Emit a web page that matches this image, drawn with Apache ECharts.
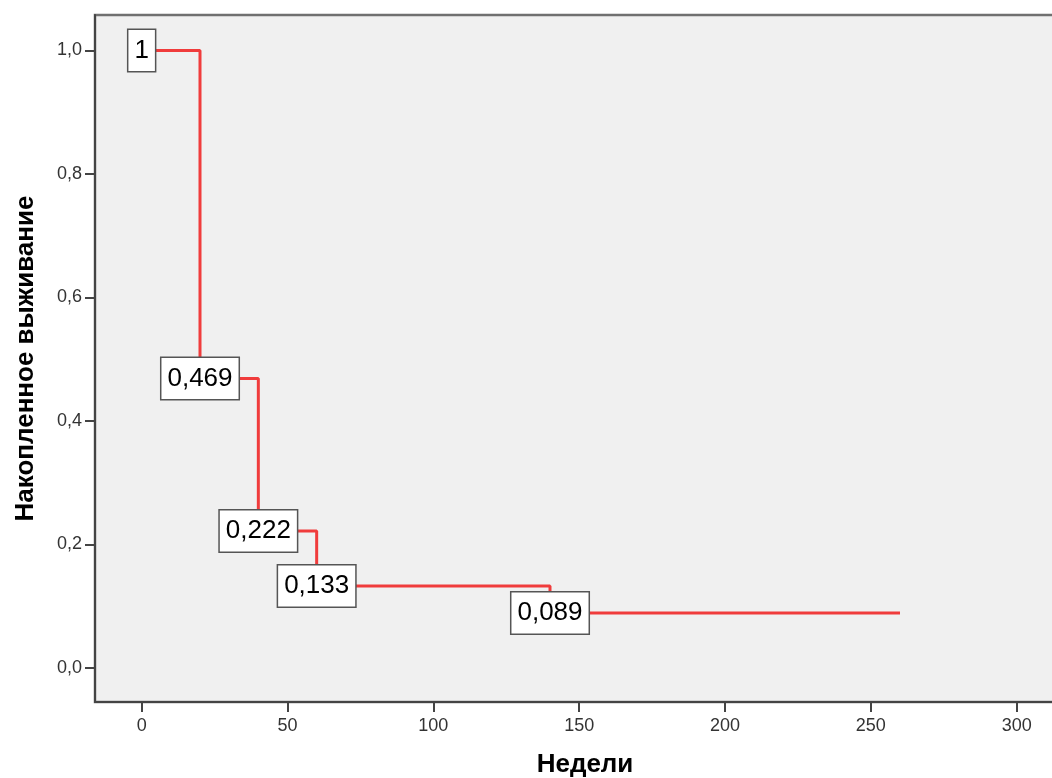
<!DOCTYPE html>
<html>
<head>
<meta charset="utf-8">
<script src="https://cdn.jsdelivr.net/npm/echarts@6/dist/echarts.min.js"></script>
<style>
html,body{margin:0;padding:0;background:#fff;}
#chart{width:1052px;height:778px;}
</style>
</head>
<body>
<div id="chart"></div>
<script>
// Kaplan-Meier step data
const weeks = [0, 20, 40, 60, 140, 260];
const survival = [1, 0.469, 0.222, 0.133, 0.089, 0.089];
// Labelled points (drops)
const labelWeeks = [0, 20, 40, 60, 140];
const labelSurvival = [1, 0.469, 0.222, 0.133, 0.089];
const labelTexts = ['1', '0,469', '0,222', '0,133', '0,089'];
// Axis ticks
const xTicks = [0, 50, 100, 150, 200, 250, 300];
const yTicks = [0, 0.2, 0.4, 0.6, 0.8, 1.0];
const xTitle = 'Недели';
const yTitle = 'Накопленное выживание';

const FONT = "'Liberation Sans', Arial, sans-serif";
const chart = echarts.init(document.getElementById('chart'), null, {renderer: 'canvas'});

chart.setOption({
  animation: false,
  backgroundColor: '#ffffff',
  grid: {
    left: 95, top: 15, width: 980, height: 687,
    outerBoundsMode: 'none', containLabel: false,
    show: true, backgroundColor: '#f0f0f0',
    borderColor: '#707070', borderWidth: 2.5
  },
  xAxis: {
    type: 'value', min: -16, max: 320,
    name: xTitle, nameLocation: 'middle', nameGap: 50,
    nameTextStyle: {fontFamily: FONT, fontSize: 26, fontWeight: 'bold', color: '#000'},
    axisLine: {show: true, onZero: false, lineStyle: {color: '#444', width: 2}},
    axisTick: {show: true, length: 10, customValues: xTicks, lineStyle: {color: '#444', width: 2}},
    axisLabel: {customValues: xTicks, margin: 15, fontFamily: FONT, fontSize: 18, color: '#333',
      formatter: v => String(v)},
    splitLine: {show: false}
  },
  yAxis: {
    type: 'value', min: -0.055, max: 1.0575,
    name: yTitle, nameLocation: 'middle', nameGap: 56, nameRotate: 90,
    nameTextStyle: {fontFamily: FONT, fontSize: 26, fontWeight: 'bold', color: '#000'},
    axisLine: {show: true, onZero: false, lineStyle: {color: '#444', width: 2}},
    axisTick: {show: true, length: 10, customValues: yTicks, lineStyle: {color: '#444', width: 2}},
    axisLabel: {customValues: yTicks, margin: 13, fontFamily: FONT, fontSize: 18, color: '#333',
      formatter: v => v.toFixed(1).replace('.', ',')},
    splitLine: {show: false}
  },
  series: [
    {
      type: 'line', step: 'end', showSymbol: false, symbol: 'none',
      data: weeks.map((w, i) => [w, survival[i]]),
      lineStyle: {color: '#f03c3c', width: 3},
      z: 2
    },
    {
      type: 'scatter', symbolSize: 0,
      itemStyle: {color: '#000', opacity: 1},
      emphasis: {disabled: true},
      data: labelWeeks.map((w, i) => ({value: [w, labelSurvival[i]], name: labelTexts[i]})),
      label: {
        show: true, position: 'inside',
        formatter: p => p.name,
        fontFamily: FONT, fontSize: 26, lineHeight: 26, color: '#000',
        backgroundColor: '#ffffff', borderColor: '#555', borderWidth: 1.5,
        padding: [8, 6, 7, 6]
      },
      z: 5
    }
  ]
});
</script>
</body>
</html>
